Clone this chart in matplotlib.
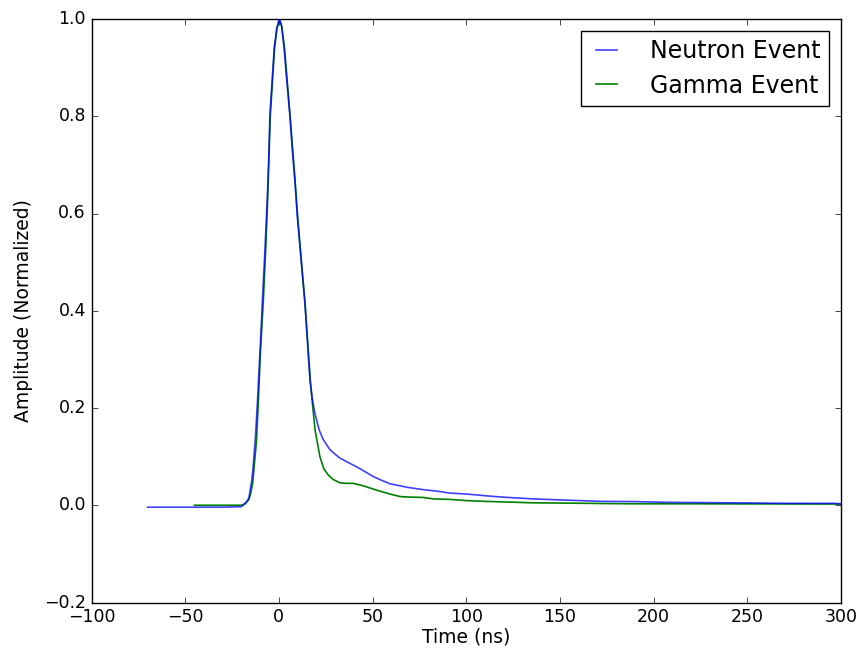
import matplotlib
matplotlib.use("Agg")
import matplotlib.pyplot as plt

plt.style.use("classic")

neutron_t = [-70, -50, -30, -20, -18, -17, -16, -15.5, -14.5, -13.8, -12.5, -11.4, -10, -8.8,
             -7.5, -6.2, -5.5, -4.8, -3.5, -2.5, -1.2, 0.2, 1.5, 2.8, 4.3, 5.9, 7.2, 8.6, 9.8,
             11.8, 13.9, 15.2, 16.6, 17.8, 19.2, 21.5, 23.7, 27.3, 30, 32.6, 37, 41.5, 46,
             50.4, 55, 59.4, 64.7, 68.3, 77.2, 84.3, 91.4, 100.4, 109, 118.2, 136, 150,
             171.7, 190, 207.3, 225, 243, 270, 296, 300]
neutron_v = [-0.004, -0.004, -0.004, -0.003, 0.004, 0.008, 0.015, 0.027, 0.05, 0.075, 0.14,
             0.215, 0.32, 0.42, 0.52, 0.63, 0.70, 0.80, 0.88, 0.94, 0.98, 1.0, 0.985, 0.94,
             0.87, 0.80, 0.73, 0.665, 0.595, 0.51, 0.42, 0.34, 0.258, 0.22, 0.189, 0.155,
             0.135, 0.114, 0.105, 0.097, 0.088, 0.079, 0.069, 0.059, 0.051, 0.044, 0.040,
             0.037, 0.032, 0.029, 0.025, 0.023, 0.020, 0.017, 0.013, 0.011, 0.008, 0.0075,
             0.006, 0.0055, 0.005, 0.004, 0.004, 0.003]

gamma_t = [-45, -30, -20, -18, -16, -15, -14, -13.3, -12, -11, -9.8, -8.3, -7, -6, -4.6,
           -2.3, -1, 0.4, 1.5, 3, 6, 8.7, 10, 12, 14, 16.9, 19.3, 21.9, 24, 26.4, 29, 32.6,
           36, 39.7, 45, 52.2, 59.3, 64.6, 68.2, 77.1, 82.4, 91.3, 100.2, 110, 135.6, 150,
           175, 189, 220, 250, 296, 300]
gamma_v = [0.0, 0.0, 0.0, 0.003, 0.012, 0.025, 0.045, 0.075, 0.13, 0.21, 0.32, 0.42, 0.53,
           0.63, 0.80, 0.94, 0.98, 1.0, 0.985, 0.94, 0.80, 0.665, 0.595, 0.50, 0.41, 0.25,
           0.155, 0.100, 0.075, 0.062, 0.053, 0.046, 0.045, 0.045, 0.040, 0.031, 0.023,
           0.018, 0.017, 0.016, 0.013, 0.012, 0.0095, 0.008, 0.005, 0.0045, 0.0035, 0.003,
           0.003, 0.0028, 0.0025, 0.0025]

fig = plt.figure(figsize=(8.58, 6.52), dpi=100, facecolor="white")
ax = fig.add_axes([91.5 / 858, 1 - 602.5 / 652, (841 - 91.5) / 858, (602.5 - 19) / 652])
ax.set_facecolor("white")

ax.plot(neutron_t, neutron_v, color="#0000ff", alpha=0.75, lw=1.2, label="Neutron Event", zorder=3)
ax.plot(gamma_t, gamma_v, color="#008000", lw=1.2, label="Gamma Event", zorder=2)

ax.set_xlim(-100, 300)
ax.set_ylim(-0.2, 1.0)
ax.set_xticks([-100, -50, 0, 50, 100, 150, 200, 250, 300])
ax.set_yticks([-0.2, 0.0, 0.2, 0.4, 0.6, 0.8, 1.0])
ax.set_xlabel("Time (ns)", fontsize=13.5, labelpad=1)
ax.set_ylabel("Amplitude (Normalized)", fontsize=13.5, labelpad=8)
ax.tick_params(labelsize=12.5)

leg = ax.legend(loc="upper right", fontsize=17, frameon=True, fancybox=False,
                handlelength=1.5, handletextpad=1.1, borderaxespad=0.5,
                labelspacing=0.45, borderpad=0.35)
leg.get_frame().set_edgecolor("black")

fig.savefig("out.png", dpi=100, facecolor="white")
